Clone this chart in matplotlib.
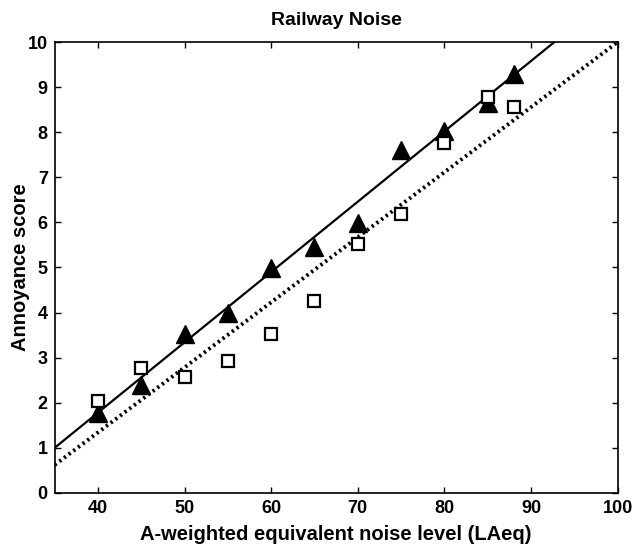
import numpy as np
import matplotlib
matplotlib.use("Agg")
import matplotlib.pyplot as plt

plt.rcParams['font.family'] = ['Liberation Sans', 'DejaVu Sans']
plt.rcParams['font.weight'] = 'bold'

# noise level (LAeq) per group
x_tri = [40, 45, 50, 55, 60, 65, 70, 75, 80, 85, 88]
y_tri = [1.77, 2.39, 3.52, 3.99, 4.98, 5.46, 5.98, 7.6, 8.03, 8.66, 9.3]
x_sq = [40, 45, 50, 55, 60, 65, 70, 75, 80, 85, 88]
y_sq = [2.04, 2.77, 2.57, 2.93, 3.52, 4.26, 5.52, 6.18, 7.76, 8.78, 8.56]

# fitted lines: (value at LAeq=35, slope)
fit_solid = (1.0, 0.156)
fit_dotted = (0.62, 0.1443)

fig = plt.figure(figsize=(6.36, 5.47), dpi=100)
ax = fig.add_axes([0.086, 0.099, 0.885, 0.824])

xs = np.array([35, 100])
ax.plot(xs, fit_solid[0] + fit_solid[1] * (xs - 35), color='black', lw=1.6)
ax.plot(xs, fit_dotted[0] + fit_dotted[1] * (xs - 35), color='black', lw=2.8,
        linestyle=(0, (0.6, 0.9)))

ax.plot(x_tri, y_tri, linestyle='none', marker='^', ms=13, color='black')
ax.plot(x_sq, y_sq, linestyle='none', marker='s', ms=9, mfc='white',
        mec='black', mew=1.6)

ax.set_xlim(35, 100)
ax.set_ylim(0, 10)
ax.set_xticks(range(40, 101, 10))
ax.set_yticks(range(0, 11))
ax.tick_params(direction='in', top=True, right=True, length=4, width=1,
               labelsize=13, pad=5)
for lab in ax.get_xticklabels() + ax.get_yticklabels():
    lab.set_fontweight('bold')
for sp in ax.spines.values():
    sp.set_linewidth(1.2)

ax.set_xlabel('A-weighted equivalent noise level (LAeq)', fontsize=14.5,
              fontweight='bold', labelpad=6)
ax.set_ylabel('Annoyance score', fontsize=14.5, fontweight='bold', labelpad=-2)
ax.set_title('Railway Noise', fontsize=14, fontweight='bold', pad=12)

fig.savefig('out.png', dpi=100)
